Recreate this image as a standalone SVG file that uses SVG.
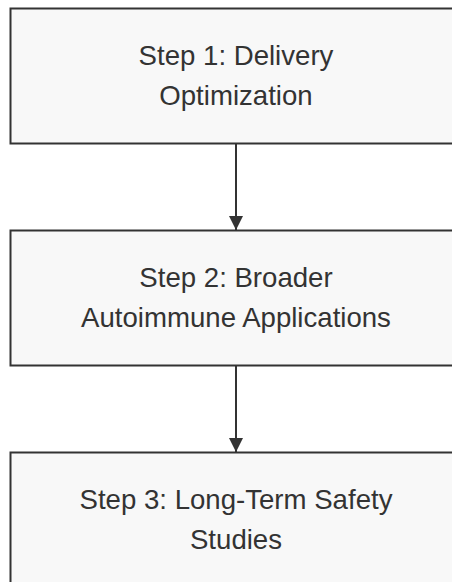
<svg xmlns="http://www.w3.org/2000/svg" width="452" height="582" viewBox="0 0 452 582">
<style>
.box{fill:#f8f8f8;stroke:#333333;stroke-width:2}
.lbl{font-family:"Liberation Sans",Arial,sans-serif;font-size:27.6px;fill:#333333;text-anchor:middle}
.edge{stroke:#333333;stroke-width:2;fill:none}
</style>
<defs>
<marker id="ah" markerWidth="14" markerHeight="14" viewBox="0 0 14 14" refX="14" refY="7" orient="auto" markerUnits="userSpaceOnUse">
<path d="M0,0 L14,7 L0,14 Z" fill="#333333"/>
</marker>
</defs>
<rect width="452" height="582" fill="#ffffff"/>
<g id="connectors">
<line class="edge" x1="236" y1="144" x2="236" y2="230" marker-end="url(#ah)"/>
<line class="edge" x1="236" y1="366" x2="236" y2="452" marker-end="url(#ah)"/>
</g>
<g id="step1">
<rect class="box" x="10.5" y="8.5" width="452" height="135"/>
<text class="lbl" x="236" y="65">Step 1: Delivery</text>
<text class="lbl" x="236" y="105">Optimization</text>
</g>
<g id="step2">
<rect class="box" x="10.5" y="230.5" width="452" height="135"/>
<text class="lbl" x="236" y="287">Step 2: Broader</text>
<text class="lbl" x="236" y="327">Autoimmune Applications</text>
</g>
<g id="step3">
<rect class="box" x="10.5" y="452.5" width="452" height="135"/>
<text class="lbl" x="236" y="509">Step 3: Long-Term Safety</text>
<text class="lbl" x="236" y="549">Studies</text>
</g>
</svg>
